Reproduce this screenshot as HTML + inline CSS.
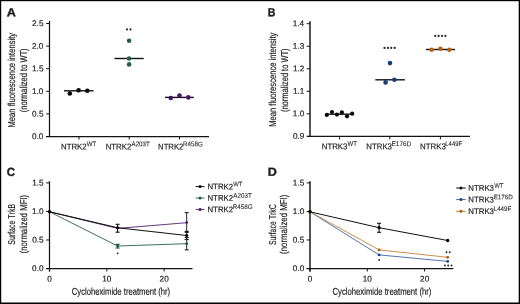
<!DOCTYPE html>
<html><head><meta charset="utf-8"><style>
html,body{margin:0;padding:0;background:#fff;}
svg{display:block;will-change:transform;}
text{font-family:"Liberation Sans", sans-serif;fill:#1c1c1c;font-kerning:none;stroke:#1c1c1c;stroke-width:0.18px;}
</style></head><body>
<svg width="520" height="304" viewBox="0 0 520 304" text-rendering="geometricPrecision">
<rect x="0" y="0" width="520" height="304" fill="#fff"/>
<text transform="translate(6.74,16.25) rotate(0.1)" font-size="11.8" textLength="9.10" lengthAdjust="spacingAndGlyphs" font-weight="bold" fill="#000" style="stroke-width:0.35px">A</text>
<text transform="translate(267.74,16.15) rotate(0.1)" font-size="11.8" textLength="7.64" lengthAdjust="spacingAndGlyphs" font-weight="bold" fill="#000" style="stroke-width:0.35px">B</text>
<text transform="translate(6.73,176.00) rotate(0.1)" font-size="11.8" textLength="8.28" lengthAdjust="spacingAndGlyphs" font-weight="bold" fill="#000" style="stroke-width:0.35px">C</text>
<text transform="translate(267.71,175.85) rotate(0.1)" font-size="11.8" textLength="9.07" lengthAdjust="spacingAndGlyphs" font-weight="bold" fill="#000" style="stroke-width:0.35px">D</text>
<line x1="49.50" y1="20.90" x2="49.50" y2="137.10" stroke="#141414" stroke-width="1.25"/>
<line x1="46.00" y1="136.50" x2="209.00" y2="136.50" stroke="#141414" stroke-width="1.25"/>
<line x1="46.20" y1="136.50" x2="49.50" y2="136.50" stroke="#141414" stroke-width="1.0"/>
<text transform="translate(32.02,139.10) rotate(0.1)" font-size="8.2" textLength="11.40" lengthAdjust="spacingAndGlyphs">0.0</text>
<line x1="46.20" y1="113.90" x2="49.50" y2="113.90" stroke="#141414" stroke-width="1.0"/>
<text transform="translate(32.05,116.50) rotate(0.1)" font-size="8.2" textLength="11.40" lengthAdjust="spacingAndGlyphs">0.5</text>
<line x1="46.20" y1="91.30" x2="49.50" y2="91.30" stroke="#141414" stroke-width="1.0"/>
<text transform="translate(32.02,93.90) rotate(0.1)" font-size="8.2" textLength="11.40" lengthAdjust="spacingAndGlyphs">1.0</text>
<line x1="46.20" y1="68.70" x2="49.50" y2="68.70" stroke="#141414" stroke-width="1.0"/>
<text transform="translate(32.05,71.30) rotate(0.1)" font-size="8.2" textLength="11.40" lengthAdjust="spacingAndGlyphs">1.5</text>
<line x1="46.20" y1="46.10" x2="49.50" y2="46.10" stroke="#141414" stroke-width="1.0"/>
<text transform="translate(32.02,48.70) rotate(0.1)" font-size="8.2" textLength="11.40" lengthAdjust="spacingAndGlyphs">2.0</text>
<line x1="46.20" y1="23.50" x2="49.50" y2="23.50" stroke="#141414" stroke-width="1.0"/>
<text transform="translate(32.05,26.10) rotate(0.1)" font-size="8.2" textLength="11.40" lengthAdjust="spacingAndGlyphs">2.5</text>
<line x1="79.00" y1="136.50" x2="79.00" y2="139.50" stroke="#141414" stroke-width="1.0"/>
<line x1="129.20" y1="136.50" x2="129.20" y2="139.50" stroke="#141414" stroke-width="1.0"/>
<line x1="179.50" y1="136.50" x2="179.50" y2="139.50" stroke="#141414" stroke-width="1.0"/>
<text transform="translate(15.30,126.90) rotate(-90)" x="-0.63" y="0" font-size="10.0" textLength="94.64" lengthAdjust="spacingAndGlyphs">Mean fluorescence intensity</text>
<text transform="translate(27.00,111.80) rotate(-90)" x="-0.47" y="0" font-size="10.0" textLength="63.83" lengthAdjust="spacingAndGlyphs">(normalized to WT)</text>
<text transform="translate(60.96,149.40) rotate(0.1)" font-size="8.4" textLength="25.74" lengthAdjust="spacingAndGlyphs">NTRK2</text>
<text transform="translate(86.77,146.35) rotate(0.1)" font-size="6.8" textLength="9.36" lengthAdjust="spacingAndGlyphs" style="stroke-width:0.08px">WT</text>
<text transform="translate(105.66,149.40) rotate(0.1)" font-size="8.4" textLength="25.74" lengthAdjust="spacingAndGlyphs">NTRK2</text>
<text transform="translate(131.59,146.35) rotate(0.1)" font-size="6.8" textLength="18.15" lengthAdjust="spacingAndGlyphs" style="stroke-width:0.08px">A203T</text>
<text transform="translate(158.07,149.40) rotate(0.1)" font-size="8.4" textLength="25.32" lengthAdjust="spacingAndGlyphs">NTRK2</text>
<text transform="translate(183.09,146.35) rotate(0.1)" font-size="6.8" textLength="19.88" lengthAdjust="spacingAndGlyphs" style="stroke-width:0.08px">R458G</text>
<line x1="64.00" y1="90.80" x2="93.50" y2="90.80" stroke="#111" stroke-width="1.4"/>
<circle cx="69.80" cy="93.50" r="2.3" fill="#0a0a0a"/>
<circle cx="78.60" cy="90.20" r="2.3" fill="#0a0a0a"/>
<circle cx="87.30" cy="90.80" r="2.3" fill="#0a0a0a"/>
<line x1="114.40" y1="58.50" x2="143.70" y2="58.50" stroke="#111" stroke-width="1.4"/>
<circle cx="129.10" cy="40.80" r="2.3" fill="#235f42"/>
<circle cx="129.10" cy="58.50" r="2.3" fill="#235f42"/>
<circle cx="129.10" cy="64.40" r="2.3" fill="#235f42"/>
<circle cx="126.90" cy="29.40" r="1.05" fill="#222"/>
<circle cx="130.50" cy="29.40" r="1.05" fill="#222"/>
<line x1="165.00" y1="97.40" x2="193.80" y2="97.40" stroke="#111" stroke-width="1.4"/>
<circle cx="170.80" cy="98.00" r="2.3" fill="#431766"/>
<circle cx="179.50" cy="95.50" r="2.3" fill="#431766"/>
<circle cx="188.30" cy="97.40" r="2.3" fill="#431766"/>
<line x1="310.00" y1="21.20" x2="310.00" y2="137.00" stroke="#141414" stroke-width="1.45"/>
<line x1="307.00" y1="136.40" x2="470.00" y2="136.40" stroke="#141414" stroke-width="1.25"/>
<line x1="306.70" y1="136.40" x2="310.00" y2="136.40" stroke="#141414" stroke-width="1.0"/>
<text transform="translate(292.89,138.85) rotate(0.1)" font-size="8.2" textLength="11.40" lengthAdjust="spacingAndGlyphs">0.9</text>
<line x1="306.70" y1="113.86" x2="310.00" y2="113.86" stroke="#141414" stroke-width="1.0"/>
<text transform="translate(292.82,116.31) rotate(0.1)" font-size="8.2" textLength="11.40" lengthAdjust="spacingAndGlyphs">1.0</text>
<line x1="306.70" y1="91.32" x2="310.00" y2="91.32" stroke="#141414" stroke-width="1.0"/>
<text transform="translate(292.90,93.77) rotate(0.1)" font-size="8.2" textLength="11.40" lengthAdjust="spacingAndGlyphs">1.1</text>
<line x1="306.70" y1="68.78" x2="310.00" y2="68.78" stroke="#141414" stroke-width="1.0"/>
<text transform="translate(292.91,71.23) rotate(0.1)" font-size="8.2" textLength="11.40" lengthAdjust="spacingAndGlyphs">1.2</text>
<line x1="306.70" y1="46.24" x2="310.00" y2="46.24" stroke="#141414" stroke-width="1.0"/>
<text transform="translate(292.86,48.69) rotate(0.1)" font-size="8.2" textLength="11.40" lengthAdjust="spacingAndGlyphs">1.3</text>
<line x1="306.70" y1="23.70" x2="310.00" y2="23.70" stroke="#141414" stroke-width="1.0"/>
<text transform="translate(292.74,26.15) rotate(0.1)" font-size="8.2" textLength="11.40" lengthAdjust="spacingAndGlyphs">1.4</text>
<line x1="339.60" y1="136.40" x2="339.60" y2="139.40" stroke="#141414" stroke-width="1.0"/>
<line x1="389.80" y1="136.40" x2="389.80" y2="139.40" stroke="#141414" stroke-width="1.0"/>
<line x1="440.40" y1="136.40" x2="440.40" y2="139.40" stroke="#141414" stroke-width="1.0"/>
<text transform="translate(276.30,126.20) rotate(-90)" x="-0.62" y="0" font-size="10.0" textLength="94.24" lengthAdjust="spacingAndGlyphs">Mean fluorescence intensity</text>
<text transform="translate(288.10,111.60) rotate(-90)" x="-0.46" y="0" font-size="10.0" textLength="63.63" lengthAdjust="spacingAndGlyphs">(normalized to WT)</text>
<text transform="translate(321.76,149.25) rotate(0.1)" font-size="8.4" textLength="25.69" lengthAdjust="spacingAndGlyphs">NTRK3</text>
<text transform="translate(347.57,146.10) rotate(0.1)" font-size="6.8" textLength="9.36" lengthAdjust="spacingAndGlyphs" style="stroke-width:0.08px">WT</text>
<text transform="translate(366.36,149.25) rotate(0.1)" font-size="8.4" textLength="25.58" lengthAdjust="spacingAndGlyphs">NTRK3</text>
<text transform="translate(391.58,146.10) rotate(0.1)" font-size="6.8" textLength="19.53" lengthAdjust="spacingAndGlyphs" style="stroke-width:0.08px">E176D</text>
<text transform="translate(420.06,149.25) rotate(0.1)" font-size="8.4" textLength="25.69" lengthAdjust="spacingAndGlyphs">NTRK3</text>
<text transform="translate(445.31,146.10) rotate(0.1)" font-size="6.8" textLength="16.82" lengthAdjust="spacingAndGlyphs" style="stroke-width:0.08px">L449F</text>
<line x1="327.00" y1="114.20" x2="352.00" y2="114.20" stroke="#111" stroke-width="1.4"/>
<circle cx="326.80" cy="114.90" r="2.1" fill="#0a0a0a"/>
<circle cx="332.00" cy="112.00" r="2.1" fill="#0a0a0a"/>
<circle cx="336.90" cy="114.60" r="2.1" fill="#0a0a0a"/>
<circle cx="341.90" cy="112.30" r="2.1" fill="#0a0a0a"/>
<circle cx="347.00" cy="116.30" r="2.1" fill="#0a0a0a"/>
<circle cx="352.20" cy="113.70" r="2.1" fill="#0a0a0a"/>
<line x1="375.30" y1="79.80" x2="404.90" y2="79.80" stroke="#111" stroke-width="1.4"/>
<circle cx="390.00" cy="63.10" r="2.3" fill="#173c80"/>
<circle cx="394.40" cy="79.80" r="2.3" fill="#173c80"/>
<circle cx="385.60" cy="82.40" r="2.3" fill="#173c80"/>
<circle cx="384.50" cy="47.90" r="1.1" fill="#222"/>
<circle cx="387.90" cy="47.90" r="1.1" fill="#222"/>
<circle cx="391.30" cy="47.90" r="1.1" fill="#222"/>
<circle cx="394.70" cy="47.90" r="1.1" fill="#222"/>
<line x1="425.90" y1="49.50" x2="455.00" y2="49.50" stroke="#111" stroke-width="1.4"/>
<circle cx="431.60" cy="49.70" r="2.3" fill="#b9650f"/>
<circle cx="440.40" cy="48.70" r="2.3" fill="#b9650f"/>
<circle cx="449.30" cy="49.70" r="2.3" fill="#b9650f"/>
<circle cx="435.20" cy="35.90" r="1.1" fill="#222"/>
<circle cx="438.60" cy="35.90" r="1.1" fill="#222"/>
<circle cx="442.00" cy="35.90" r="1.1" fill="#222"/>
<circle cx="445.40" cy="35.90" r="1.1" fill="#222"/>
<line x1="49.50" y1="181.30" x2="49.50" y2="271.60" stroke="#141414" stroke-width="1.25"/>
<line x1="46.00" y1="268.50" x2="192.50" y2="268.50" stroke="#141414" stroke-width="1.25"/>
<line x1="46.20" y1="268.50" x2="49.50" y2="268.50" stroke="#141414" stroke-width="1.0"/>
<text transform="translate(32.12,271.10) rotate(0.1)" font-size="8.2" textLength="11.40" lengthAdjust="spacingAndGlyphs">0.0</text>
<line x1="46.20" y1="239.97" x2="49.50" y2="239.97" stroke="#141414" stroke-width="1.0"/>
<text transform="translate(32.15,242.57) rotate(0.1)" font-size="8.2" textLength="11.40" lengthAdjust="spacingAndGlyphs">0.5</text>
<line x1="46.20" y1="211.44" x2="49.50" y2="211.44" stroke="#141414" stroke-width="1.0"/>
<text transform="translate(32.12,214.04) rotate(0.1)" font-size="8.2" textLength="11.40" lengthAdjust="spacingAndGlyphs">1.0</text>
<line x1="46.20" y1="182.91" x2="49.50" y2="182.91" stroke="#141414" stroke-width="1.0"/>
<text transform="translate(32.15,185.51) rotate(0.1)" font-size="8.2" textLength="11.40" lengthAdjust="spacingAndGlyphs">1.5</text>
<line x1="49.50" y1="268.50" x2="49.50" y2="271.50" stroke="#141414" stroke-width="1.0"/>
<text transform="translate(47.32,281.60) rotate(0.1)" font-size="8.2" textLength="4.56" lengthAdjust="spacingAndGlyphs">0</text>
<line x1="106.80" y1="268.50" x2="106.80" y2="271.50" stroke="#141414" stroke-width="1.0"/>
<text transform="translate(102.19,281.60) rotate(0.1)" font-size="8.2" textLength="9.12" lengthAdjust="spacingAndGlyphs">10</text>
<line x1="164.10" y1="268.50" x2="164.10" y2="271.50" stroke="#141414" stroke-width="1.0"/>
<text transform="translate(159.59,281.60) rotate(0.1)" font-size="8.2" textLength="9.12" lengthAdjust="spacingAndGlyphs">20</text>
<text transform="translate(71.81,294.70) rotate(0.1)" font-size="9.8" textLength="98.36" lengthAdjust="spacingAndGlyphs">Cycloheximide treatment (hr)</text>
<text transform="translate(15.10,244.40) rotate(-90)" x="-0.32" y="0" font-size="10.0" textLength="40.79" lengthAdjust="spacingAndGlyphs">Surface TrkB</text>
<text transform="translate(26.50,252.90) rotate(-90)" x="-0.48" y="0" font-size="10.0" textLength="58.46" lengthAdjust="spacingAndGlyphs">(normalized MFI)</text>
<line x1="310.00" y1="181.30" x2="310.00" y2="271.60" stroke="#141414" stroke-width="1.45"/>
<line x1="306.50" y1="268.50" x2="453.30" y2="268.50" stroke="#141414" stroke-width="1.25"/>
<line x1="306.70" y1="268.50" x2="310.00" y2="268.50" stroke="#141414" stroke-width="1.0"/>
<text transform="translate(292.82,271.10) rotate(0.1)" font-size="8.2" textLength="11.40" lengthAdjust="spacingAndGlyphs">0.0</text>
<line x1="306.70" y1="239.97" x2="310.00" y2="239.97" stroke="#141414" stroke-width="1.0"/>
<text transform="translate(292.85,242.57) rotate(0.1)" font-size="8.2" textLength="11.40" lengthAdjust="spacingAndGlyphs">0.5</text>
<line x1="306.70" y1="211.44" x2="310.00" y2="211.44" stroke="#141414" stroke-width="1.0"/>
<text transform="translate(292.82,214.04) rotate(0.1)" font-size="8.2" textLength="11.40" lengthAdjust="spacingAndGlyphs">1.0</text>
<line x1="306.70" y1="182.91" x2="310.00" y2="182.91" stroke="#141414" stroke-width="1.0"/>
<text transform="translate(292.85,185.51) rotate(0.1)" font-size="8.2" textLength="11.40" lengthAdjust="spacingAndGlyphs">1.5</text>
<line x1="310.00" y1="268.50" x2="310.00" y2="271.50" stroke="#141414" stroke-width="1.0"/>
<text transform="translate(307.82,281.60) rotate(0.1)" font-size="8.2" textLength="4.56" lengthAdjust="spacingAndGlyphs">0</text>
<line x1="367.30" y1="268.50" x2="367.30" y2="271.50" stroke="#141414" stroke-width="1.0"/>
<text transform="translate(362.69,281.60) rotate(0.1)" font-size="8.2" textLength="9.12" lengthAdjust="spacingAndGlyphs">10</text>
<line x1="424.60" y1="268.50" x2="424.60" y2="271.50" stroke="#141414" stroke-width="1.0"/>
<text transform="translate(420.09,281.60) rotate(0.1)" font-size="8.2" textLength="9.12" lengthAdjust="spacingAndGlyphs">20</text>
<text transform="translate(332.51,294.70) rotate(0.1)" font-size="9.8" textLength="98.87" lengthAdjust="spacingAndGlyphs">Cycloheximide treatment (hr)</text>
<text transform="translate(276.00,244.80) rotate(-90)" x="-0.31" y="0" font-size="10.0" textLength="40.78" lengthAdjust="spacingAndGlyphs">Surface TrkC</text>
<text transform="translate(287.40,253.40) rotate(-90)" x="-0.49" y="0" font-size="10.0" textLength="59.17" lengthAdjust="spacingAndGlyphs">(normalized MFI)</text>
<polyline points="49.50,211.75 117.60,246.00 186.70,243.70" fill="none" stroke="#3d705a" stroke-width="1.0" stroke-linejoin="round"/>
<polyline points="49.50,211.75 117.60,228.40 186.70,222.70" fill="none" stroke="#64397e" stroke-width="1.0" stroke-linejoin="round"/>
<polyline points="49.50,211.75 117.60,227.80 186.70,235.50" fill="none" stroke="#111" stroke-width="1.1" stroke-linejoin="round"/>
<line x1="117.60" y1="224.30" x2="117.60" y2="232.20" stroke="#111" stroke-width="1.0"/>
<line x1="115.60" y1="224.30" x2="119.60" y2="224.30" stroke="#111" stroke-width="1.1"/>
<line x1="115.60" y1="232.20" x2="119.60" y2="232.20" stroke="#111" stroke-width="1.1"/>
<line x1="117.60" y1="244.30" x2="117.60" y2="248.00" stroke="#1f4f38" stroke-width="1.0"/>
<line x1="115.60" y1="244.30" x2="119.60" y2="244.30" stroke="#1f4f38" stroke-width="1.1"/>
<line x1="115.60" y1="248.00" x2="119.60" y2="248.00" stroke="#1f4f38" stroke-width="1.1"/>
<line x1="186.70" y1="212.60" x2="186.70" y2="232.40" stroke="#222" stroke-width="1.0"/>
<line x1="184.70" y1="212.60" x2="188.70" y2="212.60" stroke="#222" stroke-width="1.1"/>
<line x1="184.70" y1="232.40" x2="188.70" y2="232.40" stroke="#222" stroke-width="1.1"/>
<line x1="186.70" y1="231.40" x2="186.70" y2="239.60" stroke="#111" stroke-width="1.0"/>
<line x1="184.70" y1="231.40" x2="188.70" y2="231.40" stroke="#111" stroke-width="1.1"/>
<line x1="184.70" y1="239.60" x2="188.70" y2="239.60" stroke="#111" stroke-width="1.1"/>
<line x1="186.70" y1="237.60" x2="186.70" y2="249.80" stroke="#222" stroke-width="1.0"/>
<line x1="184.70" y1="237.60" x2="188.70" y2="237.60" stroke="#222" stroke-width="1.1"/>
<line x1="184.70" y1="249.80" x2="188.70" y2="249.80" stroke="#222" stroke-width="1.1"/>
<circle cx="117.60" cy="246.00" r="1.4" fill="#1f5a3e"/>
<circle cx="186.70" cy="243.70" r="1.4" fill="#1f5a3e"/>
<circle cx="186.70" cy="222.60" r="1.4" fill="#4a1c6c"/>
<circle cx="117.60" cy="227.80" r="1.6" fill="#000"/>
<circle cx="186.70" cy="235.50" r="1.6" fill="#000"/>
<circle cx="49.50" cy="211.70" r="1.8" fill="#000"/>
<circle cx="117.70" cy="253.30" r="0.9" fill="#222"/>
<line x1="195.60" y1="186.60" x2="204.50" y2="186.60" stroke="#111" stroke-width="1.0"/>
<circle cx="200.05" cy="186.60" r="1.5" fill="#111"/>
<text transform="translate(207.46,189.35) rotate(0.1)" font-size="8.1" textLength="25.63" lengthAdjust="spacingAndGlyphs">NTRK2</text>
<text transform="translate(233.27,186.25) rotate(0.1)" font-size="6.7" textLength="9.16" lengthAdjust="spacingAndGlyphs" style="stroke-width:0.08px">WT</text>
<line x1="195.60" y1="198.00" x2="204.50" y2="198.00" stroke="#3d705a" stroke-width="1.0"/>
<circle cx="200.05" cy="198.00" r="1.5" fill="#1f5a3e"/>
<text transform="translate(207.46,200.75) rotate(0.1)" font-size="8.1" textLength="25.63" lengthAdjust="spacingAndGlyphs">NTRK2</text>
<text transform="translate(233.29,197.65) rotate(0.1)" font-size="6.7" textLength="18.46" lengthAdjust="spacingAndGlyphs" style="stroke-width:0.08px">A203T</text>
<line x1="195.60" y1="209.40" x2="204.50" y2="209.40" stroke="#64397e" stroke-width="1.0"/>
<circle cx="200.05" cy="209.40" r="1.5" fill="#431766"/>
<text transform="translate(207.46,212.15) rotate(0.1)" font-size="8.1" textLength="25.63" lengthAdjust="spacingAndGlyphs">NTRK2</text>
<text transform="translate(232.78,209.05) rotate(0.1)" font-size="6.7" textLength="19.99" lengthAdjust="spacingAndGlyphs" style="stroke-width:0.08px">R458G</text>
<polyline points="310.00,211.80 379.10,254.90 447.70,261.40" fill="none" stroke="#4563a0" stroke-width="0.9" stroke-linejoin="round"/>
<polyline points="310.00,211.80 379.10,249.90 447.70,257.30" fill="none" stroke="#c4803d" stroke-width="0.9" stroke-linejoin="round"/>
<polyline points="310.00,211.80 379.10,227.70 447.70,240.50" fill="none" stroke="#111" stroke-width="1.0" stroke-linejoin="round"/>
<line x1="379.10" y1="223.30" x2="379.10" y2="232.30" stroke="#111" stroke-width="1.0"/>
<line x1="377.10" y1="223.30" x2="381.10" y2="223.30" stroke="#111" stroke-width="1.1"/>
<line x1="377.10" y1="232.30" x2="381.10" y2="232.30" stroke="#111" stroke-width="1.1"/>
<circle cx="379.10" cy="227.70" r="1.6" fill="#000"/>
<circle cx="447.70" cy="240.50" r="1.65" fill="#000"/>
<circle cx="379.10" cy="249.90" r="1.4" fill="#b05a10"/>
<circle cx="447.70" cy="257.30" r="1.4" fill="#b05a10"/>
<circle cx="379.10" cy="254.90" r="1.4" fill="#1f3f88"/>
<circle cx="447.70" cy="261.40" r="1.4" fill="#1f3f88"/>
<circle cx="310.00" cy="211.70" r="1.8" fill="#000"/>
<circle cx="379.10" cy="259.90" r="0.95" fill="#222"/>
<circle cx="446.50" cy="252.30" r="0.95" fill="#222"/>
<circle cx="449.70" cy="252.30" r="0.95" fill="#222"/>
<circle cx="444.90" cy="265.50" r="0.95" fill="#222"/>
<circle cx="448.20" cy="265.50" r="0.95" fill="#222"/>
<circle cx="451.50" cy="265.50" r="0.95" fill="#222"/>
<line x1="456.20" y1="188.00" x2="465.70" y2="188.00" stroke="#111" stroke-width="1.0"/>
<circle cx="460.95" cy="188.00" r="1.5" fill="#111"/>
<text transform="translate(468.36,190.75) rotate(0.1)" font-size="8.1" textLength="25.58" lengthAdjust="spacingAndGlyphs">NTRK3</text>
<text transform="translate(494.17,187.65) rotate(0.1)" font-size="6.7" textLength="9.36" lengthAdjust="spacingAndGlyphs" style="stroke-width:0.08px">WT</text>
<line x1="456.20" y1="199.60" x2="465.70" y2="199.60" stroke="#4563a0" stroke-width="1.0"/>
<circle cx="460.95" cy="199.60" r="1.5" fill="#1f3f88"/>
<text transform="translate(468.36,202.35) rotate(0.1)" font-size="8.1" textLength="25.58" lengthAdjust="spacingAndGlyphs">NTRK3</text>
<text transform="translate(493.69,199.25) rotate(0.1)" font-size="6.7" textLength="19.11" lengthAdjust="spacingAndGlyphs" style="stroke-width:0.08px">E176D</text>
<line x1="456.20" y1="211.30" x2="465.70" y2="211.30" stroke="#c4803d" stroke-width="1.0"/>
<circle cx="460.95" cy="211.30" r="1.5" fill="#b05a10"/>
<text transform="translate(468.36,214.05) rotate(0.1)" font-size="8.1" textLength="25.58" lengthAdjust="spacingAndGlyphs">NTRK3</text>
<text transform="translate(493.69,210.95) rotate(0.1)" font-size="6.7" textLength="17.66" lengthAdjust="spacingAndGlyphs" style="stroke-width:0.08px">L449F</text>
<rect x="0" y="0" width="520" height="1.2" fill="#000"/>
<rect x="0" y="302.5" width="520" height="1.5" fill="#000"/>
<rect x="0" y="0" width="1.2" height="304" fill="#000"/>
<rect x="518.7" y="0" width="1.3" height="304" fill="#000"/>
</svg>
</body></html>
